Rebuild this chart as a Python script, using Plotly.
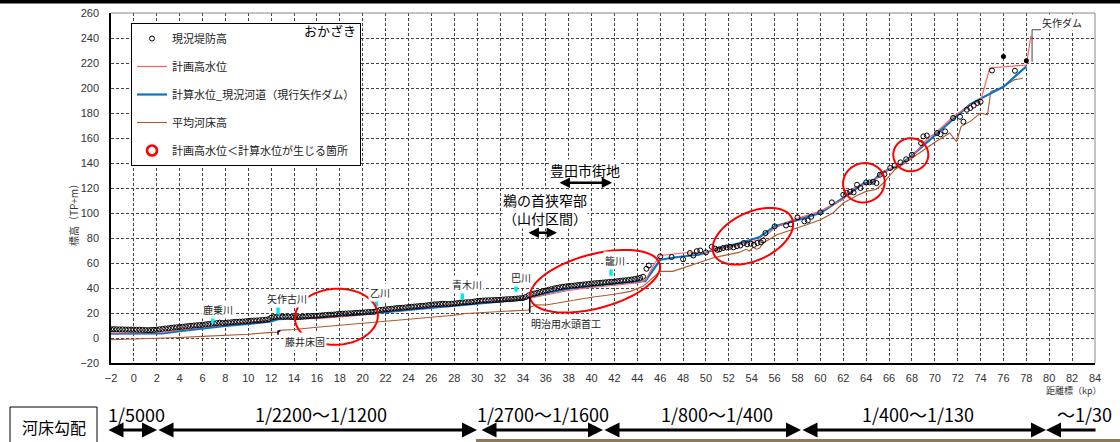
import numpy as np
import plotly.graph_objects as go

# ---------------- data ----------------
# 現況堤防高 (dense section, 0.25 kp spacing from -2 to 44.5)
levee_dense_kp = [round(-2 + 0.25 * i, 2) for i in range(187)]
levee_dense_h = [
    7.0, 7.1, 7.0, 6.9, 6.9, 6.8, 6.8, 6.7, 6.7, 6.6, 6.6, 6.5, 6.4, 6.3, 6.4, 6.5,
    6.7, 7.0, 7.3, 7.6, 7.8, 8.1, 8.4, 8.6, 8.8, 9.0, 9.3, 9.6, 9.8, 10.0, 10.2, 10.4,
    10.6, 10.9, 11.2, 11.4, 11.6, 11.9, 12.3, 12.0, 12.1, 12.4, 12.6, 12.8, 13.0, 13.1, 13.2, 13.4,
    13.6, 13.8, 14.0, 14.1, 14.2, 14.4, 14.6, 15.0, 16.2, 16.8, 17.0, 17.2, 17.0, 17.1, 17.2, 16.9,
    16.6, 16.7, 16.8, 17.0, 17.2, 17.4, 17.6, 17.7, 17.8, 18.0, 18.2, 18.4, 18.6, 18.7, 18.8, 19.1,
    19.4, 19.5, 19.6, 19.7, 19.8, 20.0, 20.2, 20.3, 20.4, 20.6, 20.8, 20.9, 21.0, 21.8, 22.4, 22.7,
    23.0, 23.2, 23.4, 23.7, 24.0, 24.1, 24.2, 24.5, 24.8, 25.0, 25.2, 25.4, 25.6, 25.8, 26.0, 26.4,
    26.8, 26.9, 27.0, 27.2, 27.4, 27.3, 27.2, 27.4, 27.6, 27.9, 28.2, 28.4, 28.6, 28.7, 28.8, 29.2,
    29.6, 29.8, 30.0, 30.1, 30.2, 30.3, 30.4, 30.5, 30.6, 30.8, 31.0, 31.1, 31.2, 31.4, 31.6, 31.8,
    32.0, 32.8, 34.2, 35.0, 35.6, 36.2, 36.8, 37.4, 38.0, 38.6, 39.2, 39.7, 40.2, 40.6, 41.0, 41.3,
    41.6, 41.8, 42.0, 42.3, 42.6, 42.8, 43.0, 43.3, 43.6, 43.8, 44.0, 44.2, 44.4, 44.6, 44.8, 45.0,
    45.2, 45.5, 45.8, 46.0, 46.2, 46.5, 46.8, 47.2, 47.6, 48.2, 49.0,
]
# 現況堤防高 (sparse upstream section)
levee_up_kp = [44.8, 45.0, 46.0, 47.0, 48.0, 48.6, 48.9, 49.2, 49.5, 50.0, 50.5, 50.8, 51.0, 51.2,
               51.5, 51.8, 52.1, 52.4, 52.7, 53.0, 53.3, 53.6, 53.9, 54.2, 54.5, 54.8, 55.0, 55.2,
               56.0, 57.0, 57.4, 58.0, 58.6, 58.9, 59.2, 60.0, 61.0, 62.0, 62.3, 62.6, 62.9, 63.2,
               63.5, 64.0, 64.3, 64.6, 64.9, 65.2, 65.6, 66.1, 66.5, 67.0, 67.5, 68.0, 68.8, 69.0,
               69.3, 70.2, 70.5, 70.9, 71.6, 72.2, 72.5, 72.8, 73.1, 73.4, 73.7, 74.0, 75.0, 77.0]
levee_up_h = [55.4, 58.0, 65.3, 64.8, 63.0, 68.0, 66.0, 69.5, 70.0, 68.5, 73.0, 71.5, 70.5, 71.0,
              72.0, 72.5, 73.0, 72.5, 73.5, 74.0, 76.0, 75.0, 75.5, 74.5, 76.0, 76.5, 78.0, 84.0,
              89.3, 90.0, 91.0, 96.5, 93.3, 94.0, 97.0, 100.5, 108.5, 114.6, 116.0, 117.0, 116.5, 122.6,
              120.0, 124.5, 124.5, 125.0, 124.0, 130.6, 131.0, 136.0, 138.0, 140.5, 143.0, 146.6, 156.0, 161.3,
              162.0, 164.0, 163.0, 165.3, 176.0, 177.0, 173.0, 182.6, 184.0, 186.0, 188.0, 189.0, 214.0, 213.8]
levee_filled_kp = [76.0, 78.0]
levee_filled_h = [225.3, 221.8]

# 計画高水位
hwl_kp = [-2, 2.5, 4, 6, 8, 10, 12, 12.6, 14, 16, 18, 20, 21, 21.5, 22, 24, 26, 28, 30, 32, 34,
          34.6, 36, 38, 40, 42, 44, 44.7, 45.4, 46, 48, 50, 50.6, 52, 54, 55, 56, 57.6, 60, 62,
          63, 64, 65, 65.6, 66.4, 67, 68, 69.4, 70, 71.6, 73, 74, 74.8, 78, 78.4]
hwl_h = [4.0, 4.4, 6.4, 8.8, 10.6, 12.2, 14.4, 15.8, 15.6, 15.4, 16.8, 18.2, 19.2, 20.6, 21.6, 23.4,
         25.2, 26.8, 28.4, 30.0, 31.6, 31.8, 34.4, 38.0, 40.4, 42.2, 44.0, 46.0, 58.0, 66.0, 68.0,
         68.5, 70.5, 72.5, 77.0, 80.0, 88.0, 94.5, 101.5, 111.0, 120.5, 123.0, 128.0, 133.5, 136.5,
         138.5, 145.0, 160.0, 163.5, 177.0, 186.0, 189.5, 216.0, 218.4, 242.0]

# 計算水位_現況河道（現行矢作ダム）
calc_kp = [-2, 2.5, 4, 6, 8, 10, 12, 12.6, 14, 16, 18, 20, 21, 22, 24, 26, 28, 30, 32, 34, 34.6,
           36, 38, 40, 42, 44, 44.7, 46, 47.7, 49.4, 50.3, 51.2, 53, 54.7, 56, 57.6, 60, 62, 63.8,
           64.5, 65.3, 67, 68.1, 69.9, 71.6, 73.1, 74, 75, 76, 78]
calc_h = [3.4, 3.6, 5.5, 7.8, 9.6, 11.2, 13.3, 15.0, 15.4, 16.2, 17.8, 19.0, 19.6, 20.6, 22.4, 24.2,
          25.8, 27.4, 29.0, 30.8, 32.4, 35.8, 39.4, 41.6, 43.4, 45.2, 45.5, 62.6, 65.0, 66.6, 69.3,
          72.0, 76.0, 80.8, 89.3, 93.3, 100.0, 112.0, 124.0, 124.5, 132.0, 138.7, 146.7, 161.3,
          175.3, 187.0, 191.5, 196.0, 201.0, 217.3]

# 平均河床高
bed_kp = [-2, 0, 2, 4, 6, 8, 10, 12, 12.6, 12.7, 14, 16, 18, 20, 21, 22, 24, 26, 28, 29, 30, 32,
          34, 34.5, 34.6, 35.2, 36, 38, 40, 42, 43.4, 44.5, 46, 47.1, 49.2, 50.6, 51.2, 52, 52.9,
          53.5, 53.8, 54.1, 54.4, 54.7, 55, 56.2, 57.6, 58.8, 60, 61.1, 62, 63.2, 64, 64.9, 65.5,
          66.5, 67.4, 68.6, 69.9, 71.3, 71.9, 72.3, 73.1, 74, 74.6, 74.9, 75.8, 77, 77.7]
bed_h = [-1.4, -1.0, -0.4, 0.4, 1.3, 2.0, 3.0, 4.5, 4.6, 6.1, 6.8, 8.6, 10.2, 11.4, 12.2, 13.4,
         14.8, 16.4, 18.2, 19.6, 20.0, 21.0, 22.0, 22.4, 24.5, 26.6, 26.4, 29.6, 32.6, 35.0, 37.3,
         41.3, 53.3, 53.3, 60.0, 64.0, 65.3, 67.0, 68.5, 71.0, 69.5, 72.5, 71.0, 72.0, 76.0, 82.6,
         86.6, 90.6, 94.6, 100.0, 108.0, 114.0, 117.3, 119.0, 124.0, 134.6, 140.0, 148.0, 156.0,
         164.0, 157.0, 169.3, 173.3, 180.0, 178.6, 197.3, 200.0, 206.7, 207.8]

# 支川合流点
trib_names = ["鹿乗川", "矢作古川", "乙川", "青木川", "巴川", "籠川"]
trib_kp = [6.9, 12.6, 21.2, 28.7, 33.4, 41.7]
trib_y = [15.0, 22.0, 28.4, 34.0, 40.4, 53.2]
trib_label_kp = [7.35, 13.4, 21.5, 29.1, 33.8, 42.05]
trib_label_y = [22.6, 31.4, 36.2, 42.6, 48.2, 61.8]

# 計画高水位<計算水位 箇所 (center kp, center m, semi-axes px, tilt deg)
ell_kp = [17.7, 40.3, 54.1, 63.8, 67.9]
ell_y = [17.0, 45.4, 81.4, 124.2, 146.6]
ell_a = [41.5, 67, 43, 21, 17.5]
ell_b = [28, 27, 24, 19.5, 16.5]
ell_ang = [-3, -15, -25, -20, 0]

# 河床勾配 (bottom strip)
slope_labels = ["1/5000", "1/2200～1/1200", "1/2700～1/1600", "1/800～1/400", "1/400～1/130", "～1/30"]
slope_px = [(107, 157), (157, 477), (480, 603), (603, 801), (801, 1046), (1046, 1097)]
slope_label_px = [136, 321, 543, 717, 918, 1084]

# ---------------- layout geometry ----------------
W, H = 1120, 442
ML, MR, MT, MB = 111, 25, 13, 79
XR = [-2, 84]
YR = [-20, 260]
PW, PH = W - ML - MR, H - MT - MB
PXX = PW / (XR[1] - XR[0])
PXY = PH / (YR[1] - YR[0])


def px2paper(px):
    return (px - ML) / PW


def py2paper(py):
    return (H - MB - py) / PH


JP = "Noto Sans CJK JP"
fig = go.Figure()

RED = "#FF5F5F"
BLUE = "#0A74C8"
BROWN = "#B0582A"

fig.add_trace(go.Scatter(x=bed_kp, y=bed_h, mode="lines", name="平均河床高",
                         line=dict(color=BROWN, width=1.1), legendrank=4, legendgroup="d"))
fig.add_trace(go.Scatter(x=calc_kp, y=calc_h, mode="lines", name="計算水位_現況河道（現行矢作ダム）",
                         line=dict(color=BLUE, width=2.2), legendrank=3, legendgroup="c"))
fig.add_trace(go.Scatter(x=hwl_kp, y=hwl_h, mode="lines", name="計画高水位",
                         line=dict(color=RED, width=1.2), legendrank=2, legendgroup="b"))
fig.add_trace(go.Scatter(x=levee_dense_kp + levee_up_kp, y=levee_dense_h + levee_up_h,
                         mode="markers", name="現況堤防高",
                         marker=dict(symbol="circle-open", size=5, color="black",
                                     line=dict(width=1.0, color="black")),
                         legendrank=1, legendgroup="a"))
fig.add_trace(go.Scatter(x=levee_filled_kp, y=levee_filled_h, mode="markers", showlegend=False,
                         marker=dict(symbol="circle", size=5, color="black")))
fig.add_trace(go.Scatter(x=[None], y=[None], mode="markers", name="計画高水位＜計算水位が生じる箇所",
                         marker=dict(symbol="circle-open", size=10, color="red",
                                     line=dict(width=2.6, color="red")),
                         legendrank=5, legendgroup="e"))
fig.add_trace(go.Scatter(x=trib_kp, y=trib_y, mode="markers", showlegend=False,
                         marker=dict(symbol="line-ns", size=6, color="#00E8F0",
                                     line=dict(width=3.5, color="#00E8F0"))))

shapes = []
annotations = []

# ellipses
for cx, cy, a, b, ang in zip(ell_kp, ell_y, ell_a, ell_b, ell_ang):
    t = np.linspace(0, 2 * np.pi, 80)
    th = np.deg2rad(ang)
    dx = a * np.cos(t)
    dy = b * np.sin(t)
    rx = dx * np.cos(th) - dy * np.sin(th)
    ry = dx * np.sin(th) + dy * np.cos(th)
    xs = cx + rx / PXX
    ys = cy - ry / PXY
    path = "M " + " L ".join(f"{x:.3f},{y:.3f}" for x, y in zip(xs, ys)) + " Z"
    shapes.append(dict(type="path", path=path, xref="x", yref="y",
                       line=dict(color="#FF0000", width=2), layer="above"))

# tributary labels
for nm, lx, ly in zip(trib_names, trib_label_kp, trib_label_y):
    annotations.append(dict(x=lx, y=ly, xref="x", yref="y", text=nm, showarrow=False,
                            font=dict(family=JP, size=10, color="#222"), bgcolor="white",
                            borderpad=1))

# structures
shapes.append(dict(type="line", xref="x", yref="y", x0=34.6, x1=34.6, y0=20.2, y1=33,
                   line=dict(color="black", width=1.5)))
shapes.append(dict(type="path", xref="x", yref="y", path="M 12.6,2.6 L 12.6,5.4 L 12.8,5.4",
                   line=dict(color="black", width=1.5)))
annotations.append(dict(x=37.8, y=11.4, xref="x", yref="y", text="明治用水頭首工", showarrow=False,
                        font=dict(family=JP, size=10, color="#222"), bgcolor="white"))
annotations.append(dict(x=14.95, y=-3.0, xref="x", yref="y", text="藤井床固", showarrow=False,
                        font=dict(family=JP, size=10, color="#222"), bgcolor="white"))

# 矢作ダム leader
shapes.append(dict(type="path", xref="x", yref="y", path="M 78.5,221 L 78.5,246.6 L 79.3,246.6",
                   line=dict(color="#444", width=1)))
annotations.append(dict(x=79.3, y=246.0, xref="x", yref="y", text="矢作ダム", showarrow=False,
                        xanchor="left", yanchor="bottom",
                        font=dict(family=JP, size=10, color="#222"), bgcolor="white", borderpad=0))

# 区間 labels and arrows
annotations.append(dict(x=39.4, y=134.6, xref="x", yref="y", text="豊田市街地", showarrow=False,
                        font=dict(family=JP, size=14, color="black"), bgcolor="white", borderpad=0))
annotations.append(dict(x=35.9, y=103.0, xref="x", yref="y", text="鵜の首狭窄部<br>（山付区間）",
                        showarrow=False, align="center",
                        font=dict(family=JP, size=14, color="black"), bgcolor="white", borderpad=0))
for x0, x1, yy in [(37.07, 41.8, 124.2), (34.36, 36.98, 84.2)]:
    annotations.append(dict(x=x1, y=yy, ax=x0, ay=yy, xref="x", yref="y", axref="x", ayref="y",
                            text="", showarrow=True, arrowhead=2, arrowside="end+start",
                            arrowsize=0.8, arrowwidth=2.6, arrowcolor="black"))

# おかざき
annotations.append(dict(x=px2paper(330), y=py2paper(31), xref="paper", yref="paper", text="おかざき",
                        xanchor="center", yanchor="middle",
                        showarrow=False, font=dict(family=JP, size=13, color="black")))

# axis titles
annotations.append(dict(x=px2paper(73), y=py2paper(213), xref="paper", yref="paper",
                        text="標高（TP+m）", textangle=-90, showarrow=False,
                        xanchor="center", yanchor="middle",
                        font=dict(family=JP, size=10, color="#333")))
annotations.append(dict(x=px2paper(1104), y=py2paper(390), xref="paper", yref="paper",
                        text="距離標（kp）", showarrow=False, xanchor="right", yanchor="middle",
                        font=dict(family=JP, size=9, color="#333")))

# plot frame top/right (gray) and top black bar
shapes.append(dict(type="line", xref="paper", yref="paper", x0=0, x1=1, y0=1, y1=1,
                   line=dict(color="#888", width=1)))
shapes.append(dict(type="line", xref="paper", yref="paper", x0=1, x1=1, y0=0, y1=1,
                   line=dict(color="#888", width=1)))
shapes.append(dict(type="rect", xref="paper", yref="paper", x0=px2paper(0), x1=px2paper(W),
                   y0=py2paper(3.5), y1=py2paper(-2), fillcolor="black", line=dict(width=0)))

# bottom: 河床勾配
shapes.append(dict(type="rect", xref="paper", yref="paper", x0=px2paper(10), x1=px2paper(97),
                   y0=py2paper(450), y1=py2paper(407), line=dict(color="black", width=1),
                   fillcolor="white"))
annotations.append(dict(x=px2paper(53.5), y=py2paper(427), xref="paper", yref="paper",
                        text="河床勾配", showarrow=False, xanchor="center", yanchor="middle",
                        font=dict(family=JP, size=16, color="black")))
# thin photo strip at the bottom edge
shapes.append(dict(type="rect", xref="paper", yref="paper", x0=px2paper(476), x1=px2paper(W),
                   y0=py2paper(446), y1=py2paper(439), line=dict(width=0), fillcolor="#8c7a5c"))
for i, ((p0, p1), lab, lc) in enumerate(zip(slope_px, slope_labels, slope_label_px)):
    if i < len(slope_px) - 1:
        annotations.append(dict(x=px2paper(p1), y=py2paper(430), xref="paper", yref="paper",
                                ax=-(p1 - p0), ay=0, text="", showarrow=True, arrowhead=2,
                                arrowside="end+start", arrowsize=1.0, arrowwidth=3,
                                arrowcolor="black", standoff=0, startstandoff=0))
    else:
        annotations.append(dict(x=px2paper(p0), y=py2paper(430), xref="paper", yref="paper",
                                ax=(p1 - p0), ay=0, text="", showarrow=True, arrowhead=2,
                                arrowside="end", arrowsize=1.0, arrowwidth=3,
                                arrowcolor="black", standoff=0))
    annotations.append(dict(x=px2paper(lc), y=py2paper(414), xref="paper", yref="paper",
                            text=lab, showarrow=False, xanchor="center", yanchor="middle",
                            font=dict(family=JP, size=18, color="black")))

fig.update_layout(
    width=W, height=H,
    margin=dict(l=ML, r=MR, t=MT, b=MB, pad=0, autoexpand=False),
    paper_bgcolor="white", plot_bgcolor="white",
    font=dict(family=JP, size=10, color="#222"),
    showlegend=True,
    legend=dict(x=px2paper(131), y=py2paper(23), xanchor="left", yanchor="top",
                bgcolor="white", bordercolor="black", borderwidth=1,
                font=dict(family=JP, size=11, color="#222"),
                tracegroupgap=9, traceorder="grouped", itemwidth=30),
    shapes=shapes, annotations=annotations,
    xaxis=dict(range=XR, tickmode="array", tickvals=list(range(-2, 85, 2)),
               showgrid=True, gridcolor="#444", griddash="3px,2px", gridwidth=1,
               showline=True, linecolor="black", linewidth=2, zeroline=False,
               ticks="", ticklabelstandoff=4, automargin=False,
               tickfont=dict(family="Liberation Sans", size=11, color="#333")),
    yaxis=dict(range=YR, tickmode="array", tickvals=list(range(-20, 261, 20)),
               showgrid=True, gridcolor="#444", griddash="3px,2px", gridwidth=1,
               showline=True, linecolor="black", linewidth=1.5, zeroline=False,
               ticks="", ticklabelstandoff=8, automargin=False,
               tickfont=dict(family="Liberation Sans", size=11, color="#333")),
)

fig.write_html(
    "out.html",
    config={"displayModeBar": False},
    post_script="document.body.style.margin='0';document.body.style.overflow='hidden';",
)
